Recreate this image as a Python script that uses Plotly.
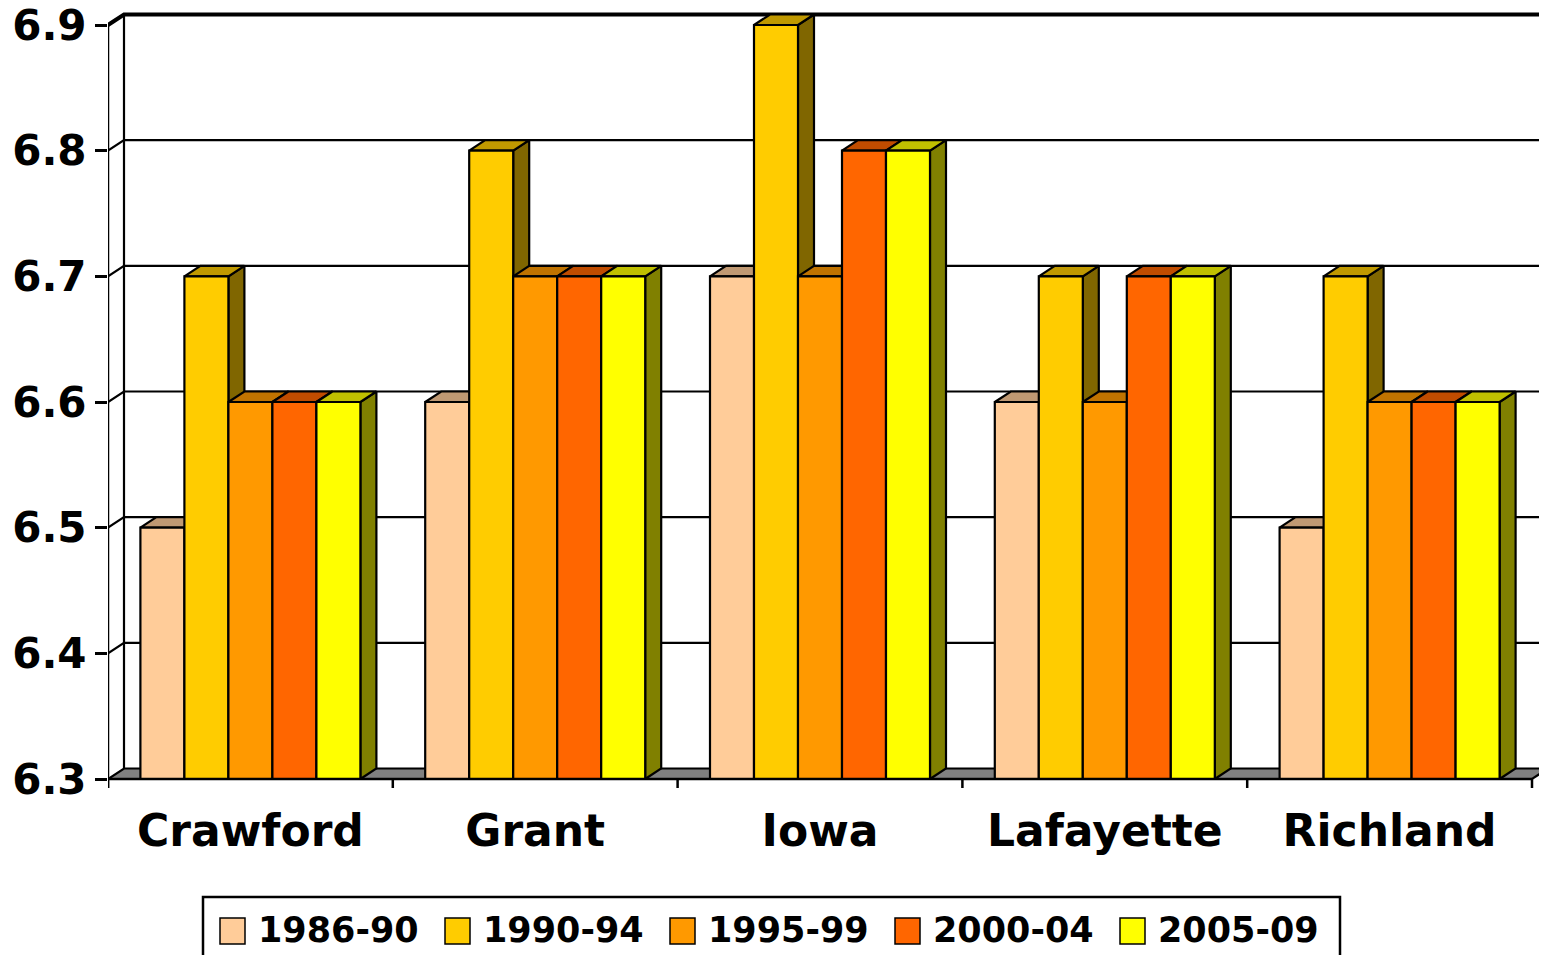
import plotly.graph_objects as go

# ---------------- data ----------------
categories = ["Crawford", "Grant", "Iowa", "Lafayette", "Richland"]
series_names = ["1986-90", "1990-94", "1995-99", "2000-04", "2005-09"]
v1986_90 = [6.5, 6.6, 6.7, 6.6, 6.5]
v1990_94 = [6.7, 6.8, 6.9, 6.7, 6.7]
v1995_99 = [6.6, 6.7, 6.7, 6.6, 6.6]
v2000_04 = [6.6, 6.7, 6.8, 6.7, 6.6]
v2005_09 = [6.6, 6.7, 6.8, 6.7, 6.6]
series_values = [v1986_90, v1990_94, v1995_99, v2000_04, v2005_09]
y_ticks = [6.3, 6.4, 6.5, 6.6, 6.7, 6.8, 6.9]
y_tick_text = ["6.3", "6.4", "6.5", "6.6", "6.7", "6.8", "6.9"]

# ---------------- style ----------------
front_colors = ["#FFCC99", "#FFCC00", "#FF9900", "#FF6600", "#FFFF00"]
top_colors = ["#C09973", "#C09900", "#C07300", "#C04C00", "#C0C000"]
side_colors = ["#806650", "#806600", "#804C00", "#803300", "#808000"]
FONT = "DejaVu Sans"

# page body has an 8px default margin -> design in screen pixels, shift by OFF
OFF = 8
W, H = 1547, 955
ML = 108 - OFF
MT = 10 - OFF
PLOT_BOTTOM = 792 - OFF
CAT_PX = (1532 - 108) / 5.0          # pixels per category
Y_PX = 754 / 0.6                      # pixels per unit value
BASE = 6.3
X_LO = -0.5
X_HI = X_LO + (W - ML) / CAT_PX
Y_TOP = 6.9 + (25 - 10) / Y_PX
Y_BOT = BASE - (792 - 779) / Y_PX

DX = 16 / CAT_PX                      # depth offset (x)
DY = 10.5 / Y_PX                      # depth offset (y)
GROUP = 0.7725
BW = GROUP / len(series_names)
EDGE = 2.2

fig = go.Figure()


def poly(xs, ys, fill, lw=EDGE, lc="black"):
    fig.add_trace(go.Scatter(
        x=xs + [xs[0]], y=ys + [ys[0]], mode="lines", fill="toself",
        fillcolor=fill, line=dict(color=lc, width=lw),
        hoverinfo="skip", showlegend=False))


def line(xs, ys, lw=2, color="black"):
    fig.add_trace(go.Scatter(
        x=xs, y=ys, mode="lines", line=dict(color=color, width=lw),
        hoverinfo="skip", showlegend=False))


# back wall gridlines + left wall diagonals
for t in y_ticks[1:]:
    line([X_LO, X_LO + DX, X_HI], [t, t + DY, t + DY],
         lw=4 if t == y_ticks[-1] else 2.2)
# back wall left edge
line([X_LO + DX, X_LO + DX], [BASE + DY, y_ticks[-1] + DY], lw=2.2)

# floor
poly([X_LO, len(categories) - 0.5, len(categories) - 0.5 + DX, X_LO + DX],
     [BASE, BASE, BASE + DY, BASE + DY], "#808080")

# bars (side, top, front) left to right
for i, cat in enumerate(categories):
    for j, name in enumerate(series_names):
        h = series_values[j][i]
        x0 = i - GROUP / 2 + j * BW
        x1 = x0 + BW
        poly([x1, x1 + DX, x1 + DX, x1], [BASE, BASE + DY, h + DY, h], side_colors[j])
        poly([x0, x1, x1 + DX, x0 + DX], [h, h, h + DY, h + DY], top_colors[j])
        poly([x0, x1, x1, x0], [BASE, BASE, h, h], front_colors[j])
        fig.add_trace(go.Scatter(
            x=[(x0 + x1) / 2], y=[h], mode="markers", marker=dict(size=1, opacity=0),
            name=name, hovertemplate=f"{cat}<br>{name}: {h}<extra></extra>",
            showlegend=False))

# front axis lines and category ticks
line([X_LO, len(categories) - 0.5], [BASE, BASE], lw=2.5)
line([X_LO, X_LO], [BASE - 9 / Y_PX, y_ticks[-1]], lw=2.5)
for k in range(len(categories) + 1):
    line([k - 0.5, k - 0.5], [BASE, BASE - 9 / Y_PX], lw=2.5)

# ---------------- custom legend (screen pixel positions) ----------------
def px_x(p):
    return (p - OFF - ML) / (W - ML)


def px_y(p):
    return (PLOT_BOTTOM - (p - OFF)) / (PLOT_BOTTOM - MT)


shapes = [dict(type="rect", xref="paper", yref="paper",
               x0=px_x(203), x1=px_x(1340), y0=px_y(975), y1=px_y(897),
               line=dict(color="black", width=2.5), fillcolor="rgba(0,0,0,0)")]
annotations = []
for j, name in enumerate(series_names):
    mx = 220 + 225 * j
    shapes.append(dict(type="rect", xref="paper", yref="paper",
                       x0=px_x(mx), x1=px_x(mx + 25), y0=px_y(944), y1=px_y(918),
                       line=dict(color="black", width=1.5), fillcolor=front_colors[j]))
    annotations.append(dict(xref="paper", yref="paper", x=px_x(mx + 36), y=px_y(930),
                            text=name, showarrow=False, xanchor="left", yanchor="middle",
                            font=dict(family=FONT, size=35, color="black", weight="bold")))

fig.update_layout(
    width=W, height=H,
    margin=dict(l=ML, r=0, t=MT, b=H - PLOT_BOTTOM, autoexpand=False),
    paper_bgcolor="white", plot_bgcolor="white",
    showlegend=False,
    shapes=shapes, annotations=annotations,
    xaxis=dict(range=[X_LO, X_HI], tickvals=list(range(len(categories))),
               ticktext=categories, ticks="", showgrid=False, zeroline=False,
               showline=False, ticklabelstandoff=9, automargin=False,
               ticklabeloverflow="allow",
               tickfont=dict(family=FONT, size=44, color="black", weight="bold")),
    yaxis=dict(range=[Y_BOT, Y_TOP], tickvals=y_ticks, ticktext=y_tick_text,
               ticks="outside", ticklen=12, tickwidth=2.5, tickcolor="black",
               showgrid=False, zeroline=False, showline=False, ticklabelstandoff=0,
               automargin=False, ticklabeloverflow="allow",
               tickfont=dict(family=FONT, size=42, color="black", weight="bold")),
)

fig.write_html("out.html")
